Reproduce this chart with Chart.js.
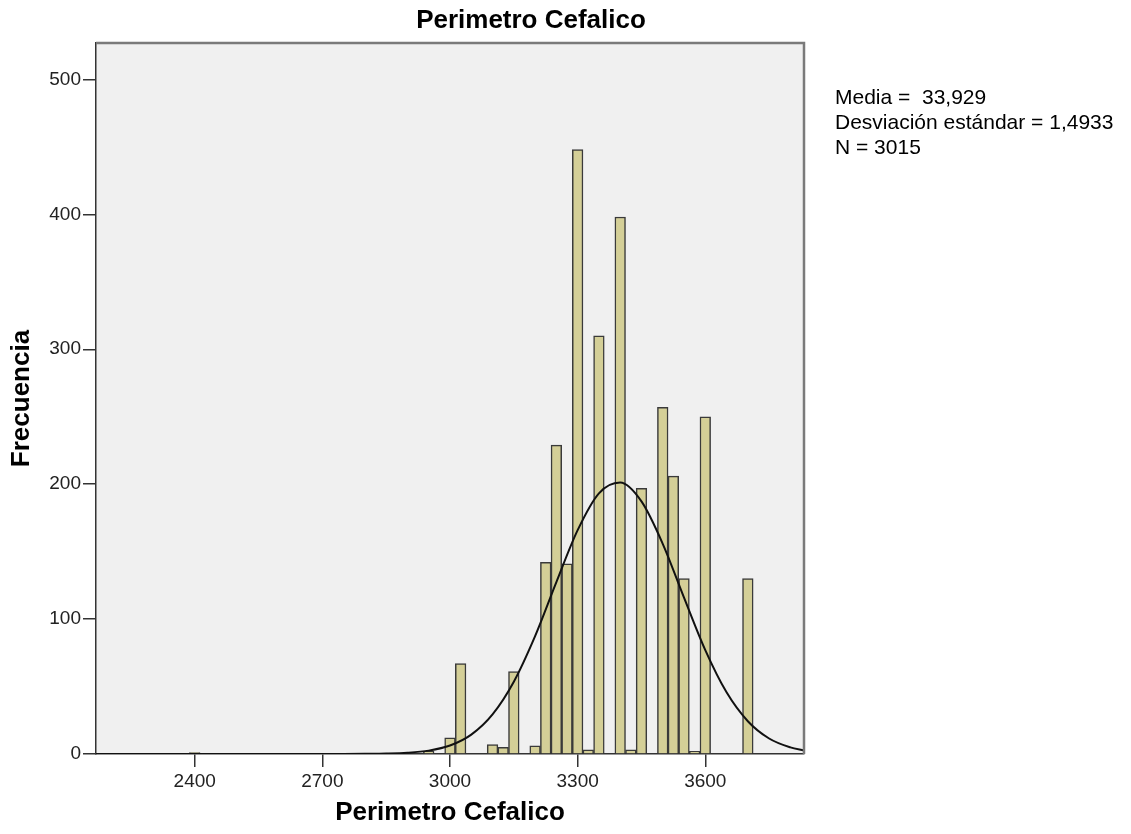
<!DOCTYPE html>
<html>
<head>
<meta charset="utf-8">
<title>Perimetro Cefalico</title>
<script src="https://cdn.jsdelivr.net/npm/chart.js@4.4.1/dist/chart.umd.min.js"></script>
<style>
    body { margin: 0; background: #fff; }
    #wrap { position: relative; width: 1131px; height: 834px; }
    #stats {
        position: absolute; left: 835px; top: 84px;
        font: 21px "Liberation Sans", Arial, sans-serif;
        line-height: 25px; white-space: pre; color: #000;
    }
</style>
</head>
<body>
<div id="wrap">
    <canvas id="chart" width="1131" height="834"></canvas>
    <div id="stats"></div>
</div>
<script>
const chartTitle = "Perimetro Cefalico";
const xTitle = "Perimetro Cefalico";
const yTitle = "Frecuencia";
const statLines = ["Media =  33,929", "Desviación estándar = 1,4933", "N = 3015"];

// centro de cada intervalo (ancho 25) y su frecuencia
const binCenters = [2400, 2950, 3000, 3025, 3100, 3125, 3150, 3200, 3225, 3250, 3275, 3300,
                    3325, 3350, 3400, 3425, 3450, 3500, 3525, 3550, 3575, 3600, 3700];
const binCounts  = [1, 2, 12, 67, 7, 5, 61, 6, 142, 229, 141, 448,
                    3, 310, 398, 3, 197, 257, 206, 130, 2, 250, 130];

// curva normal
const curveX = [2168, 2400, 2600, 2750, 2800, 2850, 2900, 2950, 3000, 3050, 3100, 3150, 3200,
                3250, 3300, 3350, 3400, 3450, 3500, 3550, 3600, 3650, 3700, 3750, 3800, 3832];
const curveY = [0, 0, 0, 0, 0.1, 0.3, 0.9, 2.5, 6.3, 14.4, 29.4, 53.6, 87.4,
                127.4, 165.9, 193.2, 201.2, 187.2, 155.8, 115.9, 77.0, 45.7, 24.3, 11.5, 4.9, 2.6];

const xMin = 2168, xMax = 3832, xStep = 300;
const yMax = 527, yStep = 100;

document.getElementById("stats").textContent = statLines.join("\n");

Chart.defaults.font.family = '"Liberation Sans", Arial, sans-serif';

// fondo gris del area de datos, marco superior/derecho y titulo
const plotFrame = {
    id: 'plotFrame',
    beforeDraw(chart) {
        const { ctx, chartArea: a } = chart;
        ctx.save();
        ctx.fillStyle = '#f0f0f0';
        ctx.fillRect(a.left, a.top, a.right - a.left, a.bottom - a.top);
        ctx.restore();
    },
    afterDraw(chart) {
        const { ctx, chartArea: a } = chart;
        ctx.save();
        ctx.strokeStyle = '#7a7a7a';
        ctx.lineWidth = 2.5;
        ctx.beginPath();
        ctx.moveTo(a.left, a.top);
        ctx.lineTo(a.right, a.top);
        ctx.lineTo(a.right, a.bottom);
        ctx.stroke();

        ctx.fillStyle = '#000';
        ctx.font = 'bold 26px "Liberation Sans", Arial, sans-serif';
        ctx.textAlign = 'center';
        ctx.textBaseline = 'middle';
        ctx.fillText(chartTitle, 531, 21);
        ctx.restore();
    }
};

const ctx = document.getElementById('chart').getContext('2d');
new Chart(ctx, {
    type: 'bar',
    data: {
        datasets: [
            {
                type: 'line',
                data: curveX.map((x, i) => ({ x: x, y: curveY[i] })),
                borderColor: '#111', borderWidth: 2,
                pointRadius: 0, cubicInterpolationMode: 'monotone',
                fill: false, order: 0
            },
            {
                type: 'bar',
                data: binCenters.map((x, i) => ({ x: x, y: binCounts[i] })),
                backgroundColor: '#d4cf97', borderColor: '#3a3a3a', borderWidth: 1.5,
                barPercentage: 1, categoryPercentage: 1, order: 1
            }
        ]
    },
    options: {
        responsive: false,
        animation: false,
        layout: { padding: { left: 0, right: 327, top: 43, bottom: 0 } },
        plugins: { legend: { display: false }, tooltip: { enabled: false } },
        scales: {
            x: {
                type: 'linear', min: xMin, max: xMax, offset: false,
                afterFit: (s) => { s.height = 80; },
                ticks: {
                    stepSize: xStep, includeBounds: false, autoSkip: false, maxRotation: 0,
                    color: '#222', font: { size: 19 }, padding: 3,
                    callback: (v) => String(v)
                },
                grid: { display: true, offset: false, drawOnChartArea: false, drawTicks: true,
                        tickLength: 13, color: '#333', lineWidth: 1.5 },
                border: { display: true, color: '#333', width: 1.5 },
                title: { display: true, text: xTitle, color: '#000',
                         font: { size: 26, weight: 'bold' }, padding: { top: 0, bottom: 6 } }
            },
            y: {
                min: 0, max: yMax,
                afterFit: (s) => { s.width = 96; },
                ticks: {
                    stepSize: yStep, includeBounds: false,
                    color: '#222', font: { size: 19 }, padding: 2,
                    callback: (v) => String(v)
                },
                grid: { display: true, drawOnChartArea: false, drawTicks: true,
                        tickLength: 13, color: '#333', lineWidth: 1.5 },
                border: { display: true, color: '#333', width: 1.5 },
                title: { display: true, text: yTitle, color: '#000',
                         font: { size: 26, weight: 'bold' }, padding: { top: 6, bottom: 0 } }
            }
        }
    },
    plugins: [plotFrame]
});
</script>
</body>
</html>
